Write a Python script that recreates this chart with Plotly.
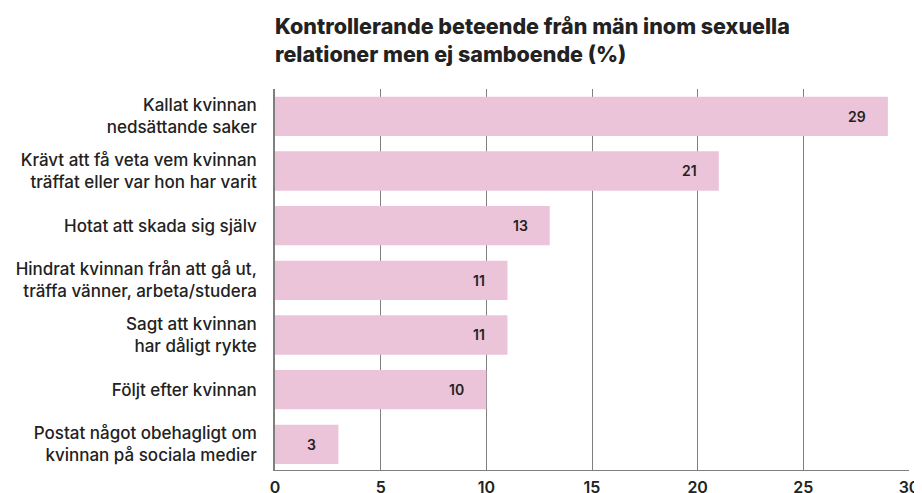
import plotly.graph_objects as go

categories = [
    "Kallat kvinnan<br>nedsättande saker",
    "Krävt att få veta vem kvinnan<br>träffat eller var hon har varit",
    "Hotat att skada sig själv",
    "Hindrat kvinnan från att gå ut,<br>träffa vänner, arbeta/studera",
    "Sagt att kvinnan<br>har dåligt rykte",
    "Följt efter kvinnan",
    "Postat något obehagligt om<br>kvinnan på sociala medier",
]
values = [29, 21, 13, 11, 11, 10, 3]
x_ticks = [0, 5, 10, 15, 20, 25, 30]
title_lines = ["Kontrollerande beteende från män inom sexuella",
               "relationer men ej samboende (%)"]

FONT = "Inter"
TEXT = "#222222"
GRID = "#7f7f7f"

fig = go.Figure()
fig.add_trace(go.Bar(
    x=values, y=categories, orientation="h",
    marker=dict(color="#EBC4D9", line=dict(width=0)),
    width=0.72, hoverinfo="skip",
))

for c, v in zip(categories, values):
    fig.add_annotation(x=v, y=c, xref="x", yref="y", text=str(v),
                       showarrow=False, xanchor="right", xshift=-20,
                       font=dict(family=FONT, size=14, color=TEXT, weight=600))

fig.add_annotation(x=0, y=1.166, xref="paper", yref="paper", text=title_lines[0],
                   showarrow=False, xanchor="left", yanchor="middle", xshift=-2,
                   font=dict(family=FONT, size=21.5, color=TEXT, weight=800))
fig.add_annotation(x=0, y=1.092, xref="paper", yref="paper", text=title_lines[1],
                   showarrow=False, xanchor="left", yanchor="middle", xshift=-2,
                   font=dict(family=FONT, size=21.5, color=TEXT, weight=800))

fig.update_layout(
    width=922, height=493,
    margin=dict(l=267, r=21, t=81, b=31),
    plot_bgcolor="white", paper_bgcolor="white",
    showlegend=False,
    font=dict(family=FONT, color=TEXT),
    xaxis=dict(range=[0, 30], tickvals=x_ticks, ticktext=[str(t) for t in x_ticks],
               showgrid=True, gridcolor=GRID, gridwidth=1.4,
               showline=True, linecolor=GRID, linewidth=1.4,
               zeroline=False, ticks="", automargin=False,
               ticklabelstandoff=3,
               tickfont=dict(family=FONT, size=16, color=TEXT, weight=600),
               side="bottom"),
    yaxis=dict(range=[6.47, -0.5], showgrid=False, zeroline=False,
               showline=True, linecolor=GRID, linewidth=1.6,
               ticks="", automargin=False,
               ticklabelstandoff=13,
               tickfont=dict(family=FONT, size=17, color=TEXT, weight=500)),
)

fig.write_html("out.html")
